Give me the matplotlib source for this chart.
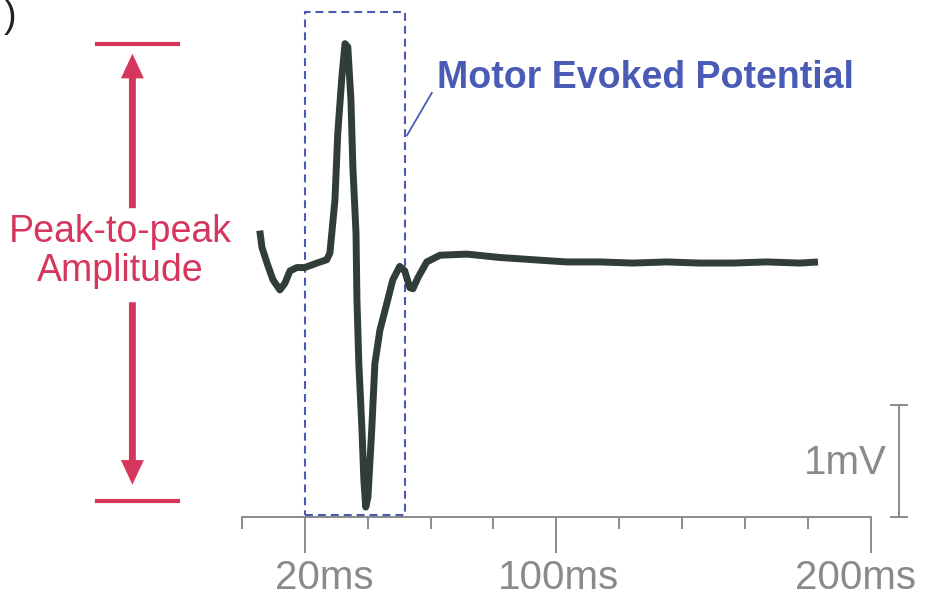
import numpy as np
import matplotlib
matplotlib.use("Agg")
import matplotlib.pyplot as plt
import matplotlib.transforms as mtransforms
from matplotlib.patches import Rectangle

plt.rcParams['font.family'] = ['Liberation Sans', 'DejaVu Sans']

# MEP trace, time in ms, amplitude in mV (baseline = 0)
time_ms = [5.7, 6.4, 8.0, 9.9, 12.1, 13.7, 15.3, 17.5, 20.0, 23.9, 27.0, 28.0,
           29.6, 30.5, 31.8, 32.8, 33.7, 34.7, 35.3, 36.3, 36.6, 37.2, 38.2,
           38.8, 39.4, 40.1, 41.3, 42.3, 43.9, 46.1, 48.0, 50.2, 51.8, 53.4,
           54.4, 56.0, 58.8, 63.0, 71.5, 82.0, 92.5, 103.3, 113.8, 124.3,
           135.1, 145.6, 156.1, 166.9, 177.4, 183.2]
amp_mv = [0.31, 0.16, 0.02, -0.13, -0.22, -0.16, -0.05, -0.02, -0.02, 0.02,
          0.05, 0.11, 0.58, 1.18, 1.68, 1.98, 1.95, 1.47, 0.88, 0.29, -0.31,
          -0.88, -1.47, -1.92, -2.16, -2.07, -1.47, -0.88, -0.58, -0.34,
          -0.13, -0.01, -0.05, -0.20, -0.21, -0.11, 0.03, 0.09, 0.10, 0.07,
          0.05, 0.03, 0.03, 0.02, 0.03, 0.02, 0.02, 0.03, 0.02, 0.03]

major_ticks = [20, 100, 200]
major_labels = ['20ms', '100ms', '200ms']
minor_ticks = [0, 40, 60, 80, 120, 140, 160, 180]
label_shift_px = [20, 2, -15]   # labels are not centred on ticks in the original

mep_window = (20, 52)      # ms, dashed box
scale_bar_mv = 1.0

red = '#d6365c'
blue = '#4a5bb5'
grey = '#8a8a8a'
trace_col = '#313d38'

fig = plt.figure(figsize=(9.29, 6), dpi=100)
ax = fig.add_axes([0, 0, 1, 1])
ax.set_xlim(-76.9, 218.5)
ax.set_ylim(-2.99, 2.37)

ax.plot(time_ms, amp_mv, color=trace_col, lw=5, solid_joinstyle='round',
        solid_capstyle='butt')

peak = max(amp_mv)
trough = min(amp_mv)
axis_y = -2.25

# time axis
for s in ['left', 'top', 'right']:
    ax.spines[s].set_visible(False)
ax.spines['bottom'].set_position(('data', axis_y))
ax.spines['bottom'].set_bounds(0, 200)
ax.spines['bottom'].set_color(grey)
ax.spines['bottom'].set_linewidth(1.4)
ax.set_xticks(major_ticks)
ax.set_xticklabels(major_labels)
ax.set_xticks(minor_ticks, minor=True)
ax.tick_params(axis='x', which='major', length=26, width=1.4, color=grey,
               labelcolor=grey, labelsize=29, pad=4, direction='out')
ax.tick_params(axis='x', which='minor', length=8.5, width=1.4, color=grey,
               direction='out')
ax.set_yticks([])
for lab, dx in zip(ax.get_xticklabels(), label_shift_px):
    lab.set_transform(lab.get_transform() +
                      mtransforms.ScaledTranslation(dx / 100, 0, fig.dpi_scale_trans))

# dashed box around the MEP
box = Rectangle((mep_window[0], axis_y + 0.02), mep_window[1] - mep_window[0],
                2.26 - axis_y - 0.02, fill=False, ec=blue, lw=1.5,
                ls=(0, (3.8, 2.4)))
ax.add_patch(box)
ax.plot([52.5, 60.4], [1.16, 1.54], color=blue, lw=1.3)
ax.text(62.0, 1.58, 'Motor Evoked Potential', color=blue, fontsize=27,
        fontweight='bold', ha='left', va='baseline')

# scale bar
ax.plot([208.9, 208.9], [axis_y, axis_y + scale_bar_mv], color=grey, lw=1.4,
        marker='_', markersize=13, mew=1.4)
ax.text(205.2, axis_y + 0.48, '1mV', color=grey, fontsize=29, ha='right',
        va='center')

# peak-to-peak amplitude
ax.plot([-46.1, -20.3], [peak, peak], color=red, lw=3)
ax.plot([-46.1, -20.3], [trough + 0.05, trough + 0.05], color=red, lw=3)
ax.arrow(-34.8, 0.51, 0, 1.38, width=2.2, head_width=7.3, head_length=0.22,
         length_includes_head=True, color=red, lw=0)
ax.arrow(-34.8, -0.33, 0, -1.63, width=2.2, head_width=7.3, head_length=0.22,
         length_includes_head=True, color=red, lw=0)
ax.text(-38.8, 0.12, 'Peak-to-peak\nAmplitude', color=red, fontsize=27,
        ha='center', va='center', linespacing=1.1)

# panel label fragment
fig.text(0.004, 0.972, ')', color='#222222', fontsize=27, ha='left', va='center')

fig.savefig('out.png', dpi=100, facecolor='white')
